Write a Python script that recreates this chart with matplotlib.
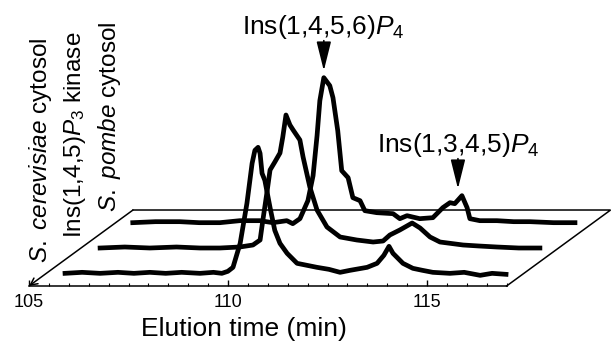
import matplotlib.pyplot as plt
from matplotlib.ticker import FixedLocator

plt.rcParams['font.family'] = 'Liberation Sans'
plt.rcParams['mathtext.fontset'] = 'custom'
plt.rcParams['mathtext.rm'] = 'Liberation Sans'
plt.rcParams['mathtext.it'] = 'Liberation Sans:italic'
plt.rcParams['mathtext.bf'] = 'Liberation Sans:bold'

# elution time (min) and signal (arbitrary units)
tempo_cerevisiae = [105.47, 105.90, 106.35, 106.80, 107.20, 107.60, 108.00, 108.40, 108.86, 109.20,
                    109.41, 109.56, 109.69, 109.87, 110.04, 110.17, 110.24, 110.32, 110.37, 110.42,
                    110.49, 110.62, 110.74, 110.87, 111.05, 111.30, 111.55, 111.80, 112.10, 112.38,
                    112.63, 113.06, 113.31, 113.48, 113.61, 113.71, 113.81, 113.96, 114.21, 114.45,
                    114.71, 115.14, 115.50, 115.90, 116.20, 116.55]
sinal_cerevisiae = [0, 1, 0, 1, 0, 1, 0, 1, 0, 1,
                    0, 2, 6, 30, 70, 110, 123, 126, 120, 100,
                    93, 66, 43, 30, 20, 10, 8, 6, 4, 1,
                    3, 6, 10, 18, 27, 20, 16, 10, 5, 3,
                    1, 0, 1, -2, 0, -1]

tempo_kinase = [105.48, 106.10, 106.73, 107.40, 107.99, 108.49, 108.99, 109.32, 109.50, 109.57,
                109.67, 109.75, 109.87, 110.00, 110.07, 110.15, 110.25, 110.33, 110.50, 110.58,
                110.75, 110.93, 111.18, 111.51, 111.93, 112.34, 112.59, 112.76, 113.01, 113.32,
                113.52, 113.77, 114.02, 114.60, 115.00, 115.45, 116.00, 116.53]
sinal_kinase = [0, 1, 0, 1, 0, 0, 1, 3, 8, 28,
                55, 78, 86, 95, 111, 133, 123, 118, 108, 91,
                61, 38, 21, 11, 8, 6, 7, 13, 18, 25,
                20, 11, 6, 3, 2, 1, 0, 0]

tempo_pombe = [105.43, 106.00, 106.61, 107.10, 107.62, 108.12, 108.62, 108.95, 109.30, 109.45,
               109.63, 109.83, 109.96, 110.06, 110.13, 110.23, 110.38, 110.46, 110.58, 110.68,
               110.84, 110.96, 111.14, 111.26, 111.56, 111.97, 112.14, 112.32, 112.64, 112.97,
               113.22, 113.40, 113.52, 113.70, 113.83, 113.90, 114.15, 114.58, 115.00, 115.41,
               116.00, 116.54]
sinal_pombe = [0, 1, 1, 0, 0, 2, 2, 0, 2, -1,
               4, 22, 47, 87, 122, 145, 137, 125, 92, 52,
               45, 25, 22, 12, 10, 9, 4, 7, 4, 5,
               15, 20, 19, 27, 15, 4, 2, 2, 1, 1,
               0, 0]

rotulos = [r'$\mathit{S.}$ $\mathit{cerevisiae}$ cytosol',
           r'Ins(1,4,5)$\mathit{P}_3$ kinase',
           r'$\mathit{S.}$ $\mathit{pombe}$ cytosol']
picos_texto = [r'Ins(1,4,5,6)$\mathit{P}_4$', r'Ins(1,3,4,5)$\mathit{P}_4$']
picos_tempo = [110.23, 113.60]
picos_sinal = [145, 27]

t_min, t_max = 105, 117
ticks_maiores = [105, 110, 115]
ticks_menores = [105 + 0.5 * k for k in range(25)]

# pseudo-3D layout: each depth unit shifts right (min) and up (signal units)
DX = 0.871
DY = 25.33
Y0 = 57
PROF_MAX = 3
PX_MIN = 39.8


def main():
    fig = plt.figure(figsize=(6.11, 3.43), dpi=100)
    ax = fig.add_axes([0, 0, 1, 1])
    x0 = t_min - 29 / PX_MIN
    ax.set_xlim(x0, x0 + 611 / PX_MIN)
    ax.set_ylim(0, 343)

    # plano (parallelogram)
    xf = [t_max, t_max + PROF_MAX * DX, t_min + PROF_MAX * DX]
    yf = [Y0, Y0 + PROF_MAX * DY, Y0 + PROF_MAX * DY]
    ax.plot(xf, yf, color='k', lw=1.1, solid_joinstyle='miter')
    ax.annotate('', xy=(t_min, Y0), xytext=(t_min + PROF_MAX * DX, Y0 + PROF_MAX * DY),
                arrowprops=dict(arrowstyle='->,head_length=0.5,head_width=0.25',
                                lw=1.1, color='k', shrinkA=0, shrinkB=0))

    # eixo de tempo
    for lado in ['left', 'right', 'top']:
        ax.spines[lado].set_visible(False)
    ax.spines['bottom'].set_position(('data', Y0))
    ax.spines['bottom'].set_bounds(t_min, t_max)
    ax.spines['bottom'].set_linewidth(1.1)
    ax.xaxis.set_major_locator(FixedLocator(ticks_maiores))
    ax.xaxis.set_minor_locator(FixedLocator(ticks_menores))
    ax.tick_params(axis='x', which='major', direction='in', length=4.5, width=1,
                   labelsize=13, pad=6)
    ax.tick_params(axis='x', which='minor', direction='in', length=2, width=0.8)
    ax.set_yticks([])

    series = [(tempo_cerevisiae, sinal_cerevisiae),
              (tempo_kinase, sinal_kinase),
              (tempo_pombe, sinal_pombe)]
    for i, (tempo, sinal) in enumerate(series):
        d = i + 0.5
        xs = [t + d * DX for t in tempo]
        ys = [s + Y0 + d * DY for s in sinal]
        ax.plot(xs, ys, color='k', lw=3.4, zorder=3)
        ax.text(105.28 + i * DX, 80 + i * DY, rotulos[i], rotation=90,
                ha='center', va='bottom', fontsize=17.5)

    # setas dos picos (no traço de trás)
    d = 2.5
    for texto, t, s in zip(picos_texto, picos_tempo, picos_sinal):
        xp = t + d * DX
        yp = s + Y0 + d * DY + 7
        ax.annotate('', xy=(xp, yp), xytext=(xp, yp + 30),
                    arrowprops=dict(arrowstyle='-|>,head_length=1.8,head_width=0.45',
                                    lw=1.2, color='k', shrinkA=0, shrinkB=0))
        ax.text(xp, yp + 37, texto, ha='center', va='baseline', fontsize=19)

    ax.text(110.41, 7, 'Elution time (min)', ha='center', va='baseline', fontsize=19)

    fig.savefig('out.png', dpi=100)
    plt.close(fig)


if __name__ == "__main__":
    main()
